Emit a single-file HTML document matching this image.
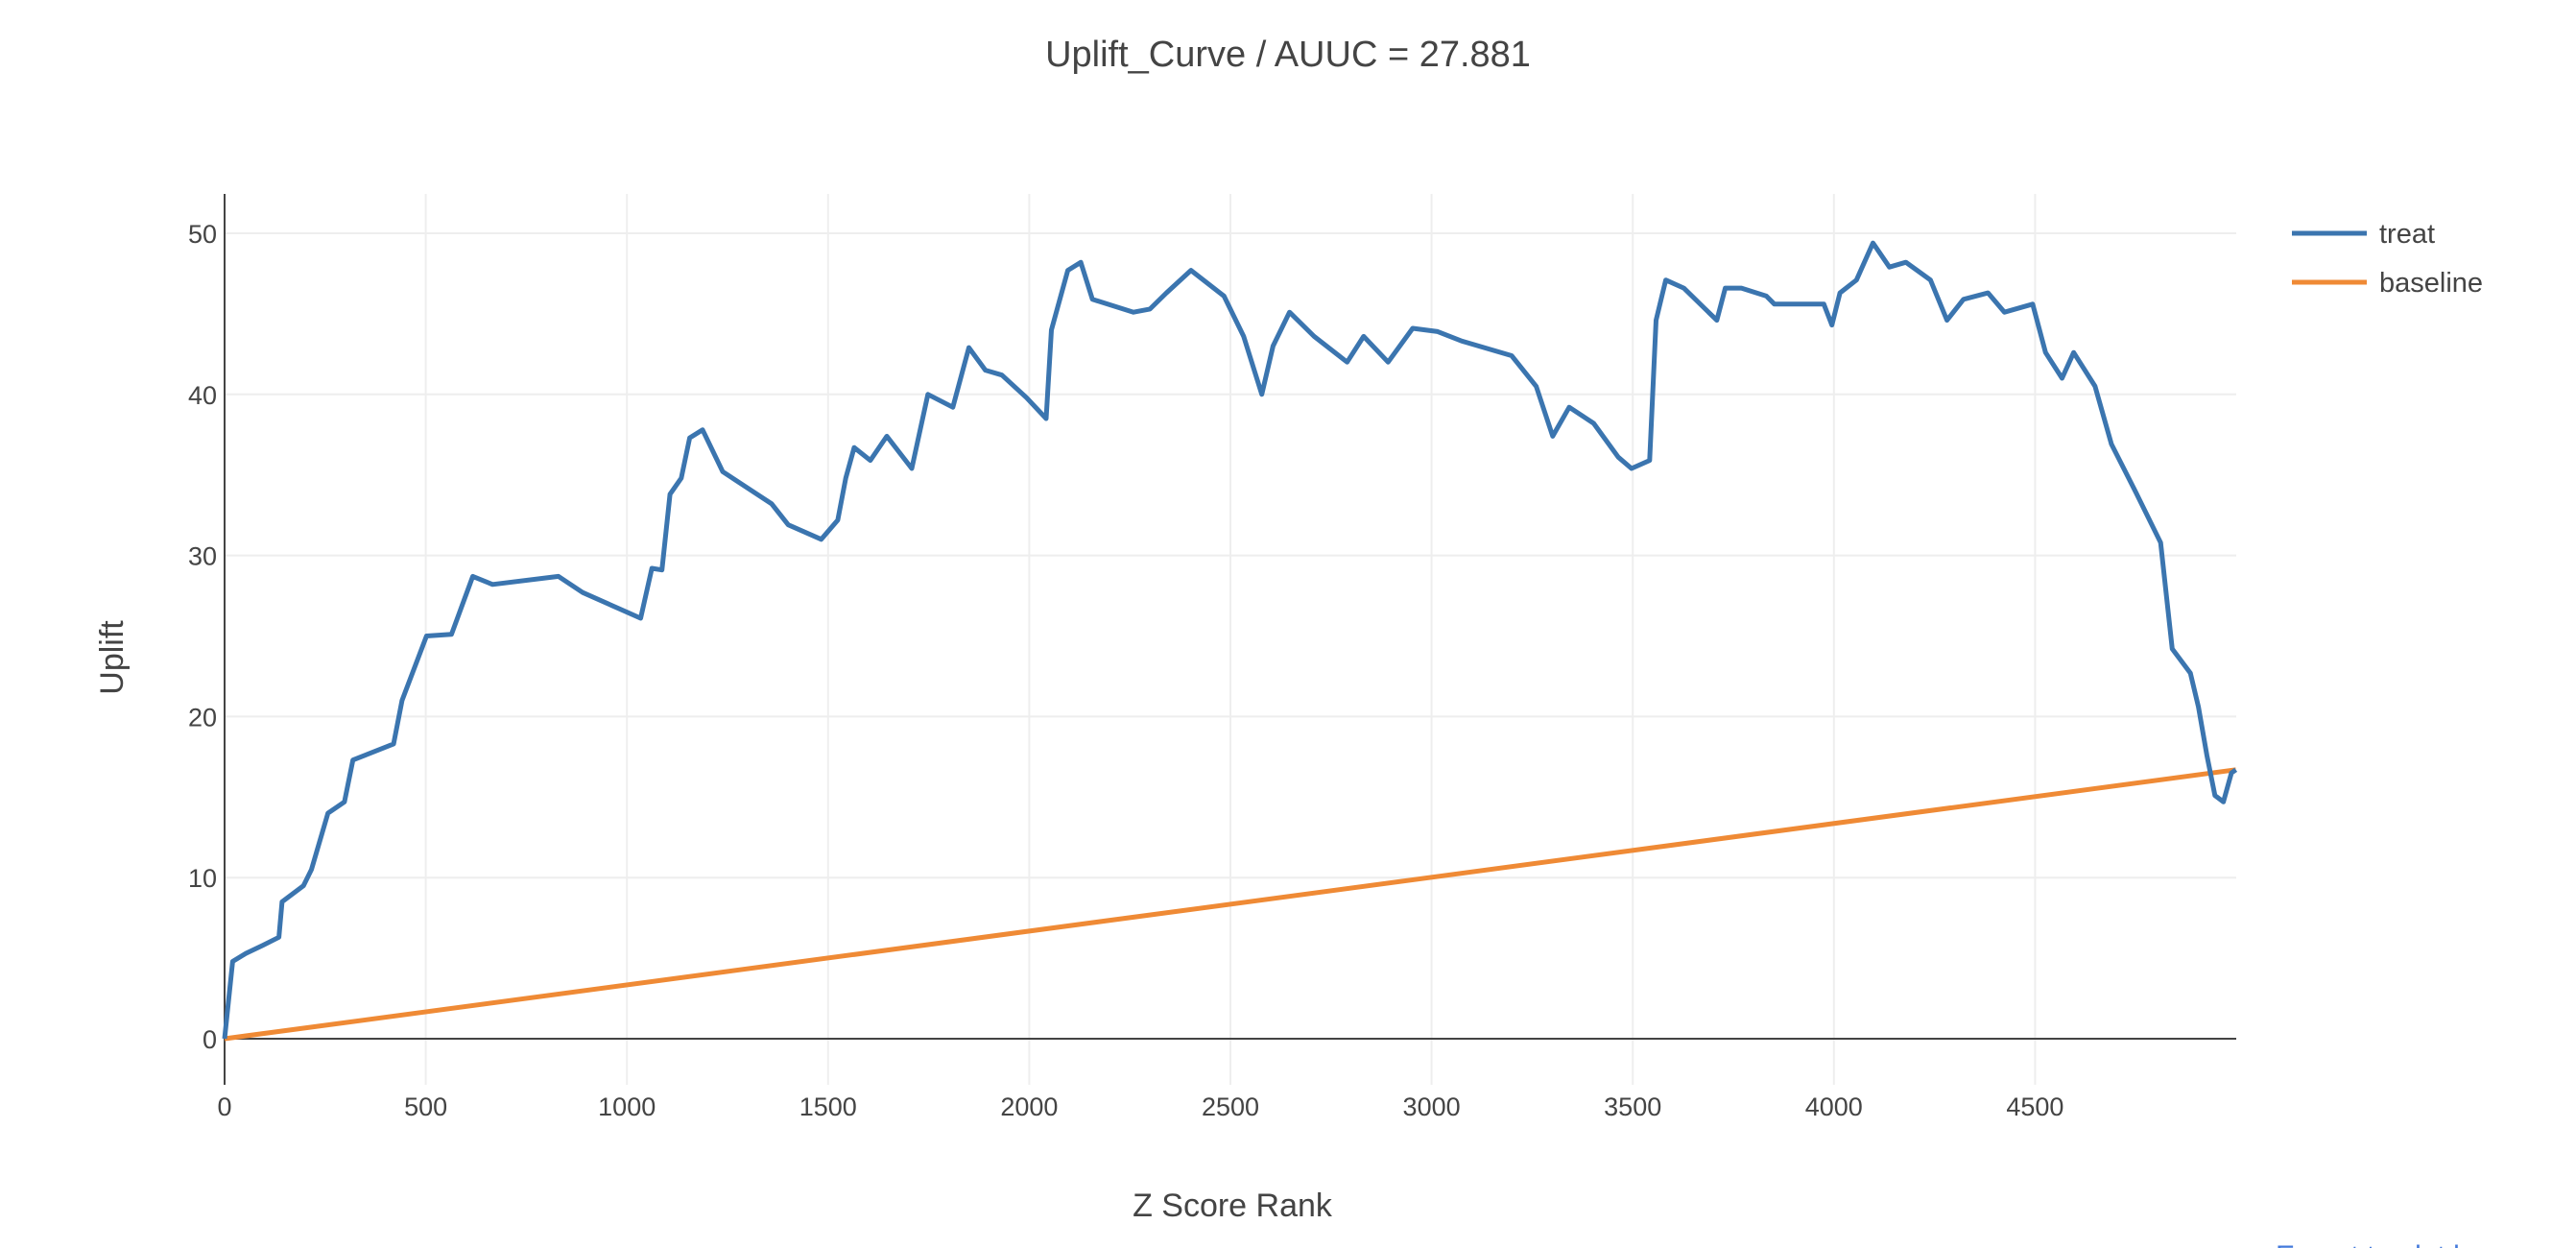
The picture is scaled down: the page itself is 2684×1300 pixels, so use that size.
<!DOCTYPE html>
<html><head><meta charset="utf-8"><style>
html,body{margin:0;padding:0;background:#fff;width:2684px;height:1300px;overflow:hidden}
svg{display:block;font-family:"Liberation Sans",sans-serif}
</style></head><body>
<svg id="chart" width="2684" height="1300">
<text x="1342" y="69" text-anchor="middle" font-size="38" fill="#444">Uplift_Curve / AUUC = 27.881</text>
<g id="grid"></g>
<g id="axes"></g>
<g id="series"></g>
<text transform="translate(128,685) rotate(-90)" text-anchor="middle" font-size="34" fill="#444">Uplift</text>
<text x="1284" y="1267" text-anchor="middle" font-size="34" fill="#444">Z Score Rank</text>
<g>
<line x1="2388" y1="243" x2="2466" y2="243" stroke="#3b75af" stroke-width="5"/>
<text x="2479" y="253" font-size="29" fill="#444">treat</text>
<line x1="2388" y1="294" x2="2466" y2="294" stroke="#ef8a35" stroke-width="5"/>
<text x="2479" y="304" font-size="29" fill="#444">baseline</text>
</g>
<text x="2371" y="1318" font-size="30" fill="#447adb">Export to plot.ly »</text>
</svg>
<script>
const treatX=[0,20,53,95,135,143,196,216,257,298,319,420,441,502,564,617,666,830,890,1034,1062,1087,1107,1135,1156,1188,1238,1360,1401,1483,1524,1544,1565,1605,1646,1708,1748,1810,1850,1891,1932,1993,2042,2055,2096,2128,2157,2259,2300,2341,2402,2484,2533,2578,2606,2647,2708,2790,2831,2892,2953,3015,3076,3199,3260,3301,3342,3403,3464,3497,3542,3558,3582,3627,3709,3730,3770,3832,3852,3975,3995,4015,4056,4097,4138,4179,4240,4281,4322,4383,4424,4494,4526,4567,4596,4649,4690,4751,4812,4841,4886,4906,4927,4947,4968,4988,4999];
const treatY=[0,4.8,5.3,5.8,6.3,8.5,9.5,10.5,14,14.7,17.3,18.3,21,25,25.1,28.7,28.2,28.7,27.7,26.1,29.2,29.1,33.8,34.8,37.3,37.8,35.2,33.2,31.9,31,32.2,34.8,36.7,35.9,37.4,35.4,40,39.2,42.9,41.5,41.2,39.8,38.5,44,47.7,48.2,45.9,45.1,45.3,46.3,47.7,46.1,43.6,40,43,45.1,43.6,42,43.6,42,44.1,43.9,43.3,42.4,40.5,37.4,39.2,38.2,36.1,35.4,35.9,44.6,47.1,46.6,44.6,46.6,46.6,46.1,45.6,45.6,44.3,46.3,47.1,49.4,47.9,48.2,47.1,44.6,45.9,46.3,45.1,45.6,42.6,41,42.6,40.5,36.9,33.9,30.8,24.2,22.7,20.6,17.6,15.1,14.7,16.5,16.7];
const baseX=[0,4999];
const baseY=[0,16.7];
const xTicks=[0,500,1000,1500,2000,2500,3000,3500,4000,4500];
const yTicks=[0,10,20,30,40,50];

const NS="http://www.w3.org/2000/svg";
const X0=234,X1=2330,XMAX=5000,YT=202,YB=1130,Y0=1082,YPX=16.78;
function sx(v){return X0+v*(X1-X0)/XMAX;}
function sy(v){return Y0-v*YPX;}
function mk(tag,attrs,parent){const e=document.createElementNS(NS,tag);for(const k in attrs)e.setAttribute(k,attrs[k]);parent.appendChild(e);return e;}
const grid=document.getElementById('grid'),axes=document.getElementById('axes'),series=document.getElementById('series');
xTicks.forEach(t=>{
  if(t>0){const g=mk('line',{x1:sx(t),x2:sx(t),y1:YT,y2:YB,stroke:'#eee','stroke-width':2},grid);
  
  }
  const l=mk('text',{x:sx(t),y:1162,'text-anchor':'middle','font-size':27,fill:'#444'},axes);
  l.textContent=t;
  
  
});
yTicks.forEach(t=>{
  if(t>0){const g=mk('line',{x1:X0,x2:X1,y1:sy(t),y2:sy(t),stroke:'#eee','stroke-width':2},grid);
  
  }
  const l=mk('text',{x:226,y:sy(t)+10,'text-anchor':'end','font-size':27,fill:'#444'},axes);
  l.textContent=t;
  
  
});
const zl=mk('line',{x1:X0,x2:X1,y1:sy(0),y2:sy(0),stroke:'#444','stroke-width':2},axes);


const ya=mk('line',{x1:X0,x2:X0,y1:YT,y2:YB,stroke:'#444','stroke-width':2},axes);


function pts(xs,ys){return xs.map((x,i)=>sx(x).toFixed(1)+','+sy(ys[i]).toFixed(1)).join(' ');}
const bl=mk('polyline',{points:pts(baseX,baseY),fill:'none',stroke:'#ef8a35','stroke-width':5},series);


const tl=mk('polyline',{points:pts(treatX,treatY),fill:'none',stroke:'#3b75af','stroke-width':5,'stroke-linejoin':'round'},series);


</script>
</body></html>
